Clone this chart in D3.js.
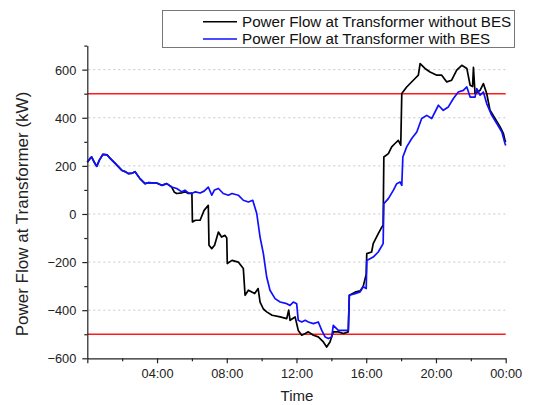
<!DOCTYPE html>
<html><head><meta charset="utf-8">
<script src="https://cdn.jsdelivr.net/npm/d3@7"></script>
<style>body{margin:0;background:#fff}svg{display:block;font-family:"Liberation Sans",Arial,sans-serif}</style>
</head><body><svg id="c" width="550" height="405"></svg>
<script>
// ---- data ----
const seriesNames = ["Power Flow at Transformer without BES", "Power Flow at Transformer with BES"];
const xTickHours = [0, 4, 8, 12, 16, 20, 24];
const xMinorHours = [2, 6, 10, 14, 18, 22];
const yTickValues = [-600, -400, -200, 0, 200, 400, 600];
const yMinorValues = [-500, -300, -100, 100, 300, 500, 700];
const limitValues = [500, -500];

const timeWith = [0,0.15,0.25,0.4,0.54,0.7,0.9,1.13,1.3,1.6,1.97,2.2,2.35,2.6,2.74,3.02,3.31,3.5,3.69,3.98,4.27,4.56,4.84,5.13,5.42,5.6,5.8,5.99,6.2,6.47,6.7,6.94,7.14,7.3,7.52,7.8,8.09,8.3,8.66,8.95,9.24,9.49,9.72,9.91,10.1,10.29,10.48,10.77,11.06,11.44,11.63,11.82,12.01,12.1,12.3,12.5,12.68,12.97,13.25,13.45,13.64,13.83,14.02,14.11,14.4,14.69,14.97,15.03,15.36,15.65,15.83,16.0,16.03,16.4,16.69,16.97,17.01,17.27,17.56,17.75,17.94,18.04,18.1,18.32,18.61,18.9,19.18,19.47,19.76,20.14,20.42,20.71,21.0,21.28,21.57,21.77,21.96,22.24,22.34,22.53,22.72,22.91,23.2,23.49,23.78,23.96,24];
const powerWith = [215,230,237,215,198,225,248,246,232,210,182,175,168,170,176,147,126,130,129,129,119,126,112,106,92,99,88,85,92,87,95,112,78,100,106,85,78,85,78,57,50,57,2,-96,-165,-262,-317,-352,-366,-373,-380,-366,-373,-442,-449,-442,-449,-456,-449,-484,-511,-518,-511,-463,-484,-484,-484,-338,-331,-324,-303,-310,-193,-179,-158,-123,43,64,99,126,133,119,237,279,314,341,397,410,397,452,431,445,480,507,514,528,486,486,521,494,507,459,410,376,341,293,285];

const timeWithout = [0,0.15,0.25,0.4,0.54,0.7,0.9,1.13,1.3,1.6,1.97,2.2,2.35,2.6,2.74,3.02,3.31,3.5,3.69,3.98,4.27,4.56,4.84,5.0,5.13,5.42,5.6,5.8,6.0,6.03,6.2,6.47,6.7,6.94,6.98,7.14,7.3,7.52,7.7,7.9,8.0,8.03,8.3,8.66,8.95,9.05,9.24,9.6,9.8,9.91,10.1,10.29,10.6,11.06,11.44,11.55,11.63,11.92,12.1,12.3,12.5,12.68,12.97,13.25,13.54,13.73,13.92,14.11,14.4,14.69,14.97,15.03,15.36,15.65,15.83,16.0,16.03,16.31,16.4,16.69,16.9,16.97,17.01,17.27,17.46,17.65,17.84,17.98,18.04,18.32,18.7,18.99,19.09,19.37,19.66,20.05,20.33,20.62,20.9,21.19,21.48,21.77,21.96,22.1,22.15,22.24,22.53,22.72,22.91,23.1,23.39,23.68,23.87,23.96,24];
const powerWithout = [215,230,237,215,198,225,248,246,232,210,182,175,168,170,176,147,126,130,129,129,119,126,112,90,85,88,92,85,87,-33,-26,-26,15,36,-130,-144,-130,-75,-96,-89,-100,-206,-193,-200,-227,-338,-317,-331,-310,-366,-395,-407,-421,-428,-435,-400,-442,-428,-484,-504,-497,-490,-504,-511,-532,-553,-532,-490,-490,-497,-490,-338,-325,-320,-300,-250,-165,-158,-123,-82,-54,-47,237,251,279,293,306,286,501,528,556,577,625,605,590,577,577,549,556,598,618,605,535,530,610,501,514,542,501,431,397,362,334,306,300];

// ---- chart ----
const svg = d3.select("#c");
const x = d3.scaleLinear().domain([0, 24]).range([87.3, 505.7]);
const y = d3.scaleLinear().domain([-600, 700]).range([358.3, 45.6]);
const fmt = h => h === 0 ? "" : String(h % 24).padStart(2, "0") + ":00";

// grid
svg.append("g").selectAll("line").data(yTickValues.filter(v => v > -600)).join("line")
  .attr("x1", x(0) + 1).attr("x2", x(24)).attr("y1", d => y(d)).attr("y2", d => y(d))
  .attr("stroke", "#c8c8c8").attr("stroke-width", 1).attr("stroke-dasharray", "2,3");

// limit lines
svg.append("g").selectAll("line").data(limitValues).join("line")
  .attr("x1", x(0)).attr("x2", x(24)).attr("y1", d => y(d)).attr("y2", d => y(d))
  .attr("stroke", "#ff1a1a").attr("stroke-width", 1.6);

// series
const line = d3.line().x(d => x(d[0])).y(d => y(d[1]));
svg.append("path").datum(timeWithout.map((t, i) => [t, powerWithout[i]]))
  .attr("d", line).attr("fill", "none").attr("stroke", "#000").attr("stroke-width", 1.7).attr("stroke-linejoin", "round");
svg.append("path").datum(timeWith.map((t, i) => [t, powerWith[i]]))
  .attr("d", line).attr("fill", "none").attr("stroke", "#1010ff").attr("stroke-width", 1.7).attr("stroke-linejoin", "round");

// axes
const axX = svg.append("g").attr("transform", `translate(0,${y(-600)})`)
  .call(d3.axisBottom(x).tickValues(xTickHours).tickFormat(fmt).tickSize(5).tickSizeOuter(0));
svg.append("g").attr("transform", `translate(0,${y(-600)})`)
  .call(d3.axisBottom(x).tickValues(xMinorHours).tickFormat("").tickSize(3).tickSizeOuter(0))
  .select(".domain").remove();
const axY = svg.append("g").attr("transform", `translate(${x(0)},0)`)
  .call(d3.axisLeft(y).tickValues(yTickValues).tickSize(5).tickSizeOuter(0));
svg.append("g").attr("transform", `translate(${x(0)},0)`)
  .call(d3.axisLeft(y).tickValues(yMinorValues).tickFormat("").tickSize(3).tickSizeOuter(0))
  .select(".domain").remove();
svg.selectAll(".tick line, .domain").attr("stroke", "#222").attr("stroke-width", 1.2);
axX.selectAll("text").attr("font-size", 12.8).attr("fill", "#222").attr("dy", "0.95em");
axY.selectAll("text").attr("font-size", 12.8).attr("fill", "#222").attr("x", -11).attr("dy", "0.35em");
svg.selectAll(".tick text").attr("font-family", '"Liberation Sans",Arial,sans-serif');

// axis titles
svg.append("text").attr("x", 297).attr("y", 401).attr("text-anchor", "middle")
  .attr("font-size", 15).attr("fill", "#222").text("Time");
svg.append("text").attr("transform", `translate(28,${214}) rotate(-90)`).attr("text-anchor", "middle")
  .attr("font-size", 17).attr("fill", "#222").text("Power Flow at Transformer (kW)");

// legend
const lg = svg.append("g");
lg.append("rect").attr("x", 162.5).attr("y", 10.5).attr("width", 352).attr("height", 37)
  .attr("fill", "#fff").attr("stroke", "#777").attr("stroke-width", 1);
const colors = ["#000", "#1010ff"];
seriesNames.forEach((n, i) => {
  const yy = 21.7 + i * 17.3;
  lg.append("line").attr("x1", 203).attr("x2", 237).attr("y1", yy).attr("y2", yy)
    .attr("stroke", colors[i]).attr("stroke-width", 1.6);
  lg.append("text").attr("x", 242).attr("y", yy + 5.3).attr("font-size", 15.2).attr("fill", "#111").text(n);
});
</script></body></html>
